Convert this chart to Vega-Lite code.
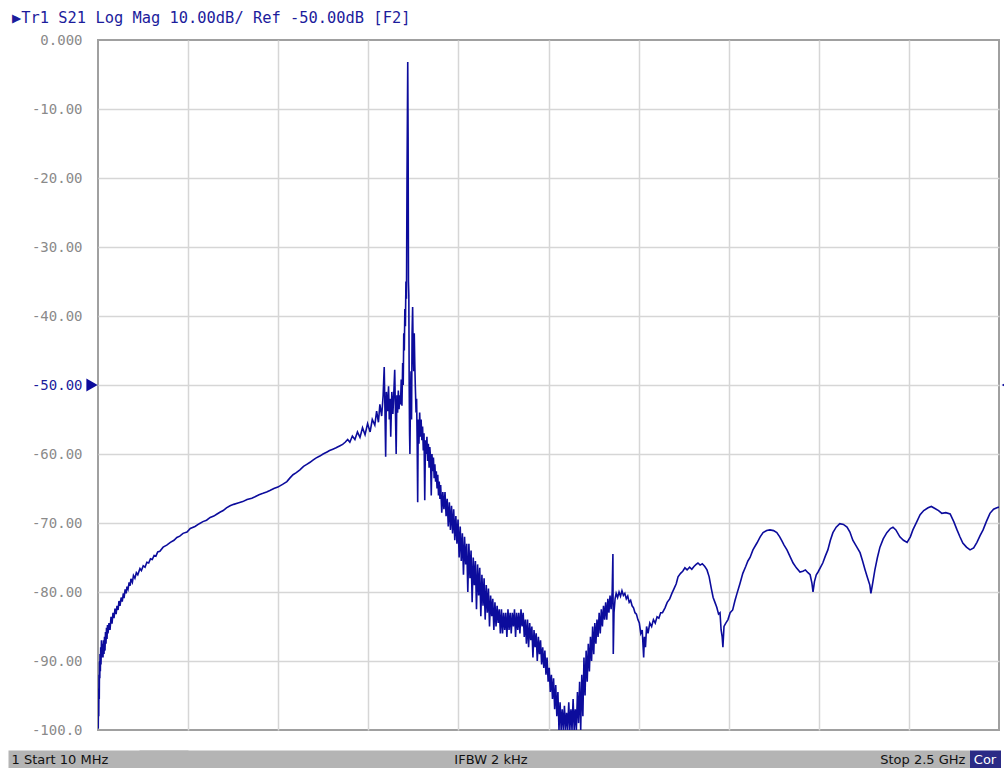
{
"$schema":"https://vega.github.io/schema/vega-lite/v6.json",
"autosize":{"type":"none"},
"width":901,"height":690,
"padding":{"left":98,"top":40,"right":5,"bottom":38},
"background":"#ffffff",
"config":{"view":{"stroke":"#a0a0a0","strokeWidth":2}},
"title":{"text":"▶Tr1 S21 Log Mag 10.00dB/ Ref -50.00dB [F2]","anchor":"start","frame":"group","dx":-86,"offset":-8,"font":"DejaVu Sans Mono","fontSize":15.4,"fontWeight":"normal","color":"#1c1c9c","baseline":"bottom"},
"layer":[
{"data":{"values":[
{"f":10,"db":-94},{"f":10.7,"db":-99.8},{"f":11.4,"db":-95},{"f":12.1,"db":-98},{"f":12.8,"db":-92},{"f":13.5,"db":-95.5},{"f":14.2,"db":-90},{"f":15,"db":-92.5},{"f":15.5,"db":-89},{"f":16.5,"db":-91.5},{"f":17.5,"db":-88},{"f":18.3,"db":-90.5},{"f":19.5,"db":-87},{"f":21.1,"db":-89.5},{"f":22.5,"db":-87.5},{"f":23.8,"db":-89.5},{"f":25.2,"db":-87},{"f":26.6,"db":-89},{"f":28,"db":-86.5},{"f":29.3,"db":-88.5},{"f":30.7,"db":-85.8},{"f":32.1,"db":-87.5},{"f":33.5,"db":-85.2},{"f":34.9,"db":-86.8},{"f":36.3,"db":-84.8},{"f":37.6,"db":-86},{"f":40.4,"db":-84.5},{"f":43.2,"db":-85.5},{"f":46,"db":-83.6},{"f":48.7,"db":-84.6},{"f":51.5,"db":-83},{"f":54.2,"db":-83.8},{"f":57,"db":-82.4},{"f":60,"db":-83.2},{"f":62.5,"db":-82},{"f":65.5,"db":-82.6},{"f":68,"db":-81.3},{"f":70.8,"db":-82},{"f":74,"db":-80.8},{"f":77,"db":-81.4},{"f":80,"db":-80.2},{"f":82,"db":-80.9},{"f":85,"db":-79.6},{"f":88,"db":-80.2},{"f":90,"db":-79.2},{"f":93,"db":-79.6},{"f":96,"db":-78.6},{"f":99,"db":-79.1},{"f":101,"db":-78.1},{"f":105,"db":-78.6},{"f":108,"db":-77.6},{"f":112,"db":-78},{"f":116,"db":-77.2},{"f":120,"db":-77.5},{"f":126,"db":-76.6},{"f":130,"db":-76.9},{"f":135,"db":-76.2},{"f":140,"db":-76.4},{"f":145,"db":-75.7},{"f":150,"db":-75.8},{"f":155,"db":-75.2},{"f":160,"db":-75.3},{"f":165,"db":-74.7},{"f":170,"db":-74.8},{"f":175,"db":-74.2},{"f":181,"db":-74.1},{"f":190,"db":-73.5},{"f":200,"db":-73.2},{"f":210,"db":-72.8},{"f":220,"db":-72.5},{"f":228,"db":-72.1},{"f":236,"db":-71.9},{"f":245,"db":-71.5},{"f":256,"db":-71.3},{"f":265,"db":-70.8},{"f":278,"db":-70.5},{"f":290,"db":-70.1},{"f":300,"db":-69.8},{"f":310,"db":-69.6},{"f":320,"db":-69.2},{"f":330,"db":-69.0},{"f":339,"db":-68.7},{"f":348,"db":-68.4},{"f":356,"db":-68.2},{"f":365,"db":-67.8},{"f":375,"db":-67.5},{"f":385,"db":-67.3},{"f":397,"db":-67.1},{"f":410,"db":-66.9},{"f":422,"db":-66.6},{"f":435,"db":-66.4},{"f":444,"db":-66.2},{"f":455,"db":-65.9},{"f":466,"db":-65.7},{"f":476,"db":-65.5},{"f":485,"db":-65.3},{"f":496,"db":-65.0},{"f":507,"db":-64.8},{"f":520,"db":-64.4},{"f":532,"db":-64.0},{"f":540,"db":-63.5},{"f":549,"db":-63.0},{"f":558,"db":-62.7},{"f":568,"db":-62.3},{"f":578,"db":-61.8},{"f":587,"db":-61.5},{"f":596,"db":-61.2},{"f":604,"db":-60.9},{"f":612,"db":-60.6},{"f":623,"db":-60.3},{"f":632,"db":-60.0},{"f":643,"db":-59.7},{"f":650,"db":-59.5},{"f":659,"db":-59.3},{"f":668,"db":-59.1},{"f":679,"db":-58.8},{"f":686,"db":-58.6},{"f":693,"db":-58.3},{"f":700,"db":-57.9},{"f":706,"db":-58.3},{"f":713,"db":-57.4},{"f":720,"db":-57.9},{"f":727,"db":-56.8},{"f":734,"db":-57.6},{"f":741,"db":-56.2},{"f":748,"db":-57.2},{"f":755,"db":-55.6},{"f":762,"db":-56.8},{"f":768,"db":-55.0},{"f":775,"db":-55.8},{"f":780,"db":-53.8},{"f":785,"db":-55.4},{"f":789,"db":-52.8},{"f":794,"db":-54.5},{"f":798,"db":-51.5},{"f":801,"db":-47.4},{"f":803,"db":-53.5},{"f":805,"db":-60.4},{"f":807,"db":-51},{"f":810,"db":-53.8},{"f":813,"db":-50.2},{"f":815,"db":-55},{"f":817,"db":-52},{"f":819,"db":-57.5},{"f":822,"db":-51},{"f":825,"db":-54.2},{"f":828,"db":-50.5},{"f":830,"db":-47.8},{"f":832,"db":-53.8},{"f":834,"db":-60},{"f":836,"db":-51.5},{"f":838,"db":-54},{"f":840,"db":-50.8},{"f":842,"db":-53.5},{"f":844,"db":-51.5},{"f":846,"db":-52.8},{"f":848,"db":-49.2},{"f":850,"db":-53},{"f":852,"db":-46.8},{"f":853.5,"db":-50},{"f":855,"db":-42.5},{"f":856.5,"db":-45},{"f":858,"db":-39},{"f":859.5,"db":-41.5},{"f":861,"db":-35},{"f":862.5,"db":-37.5},{"f":864,"db":-20},{"f":865,"db":-11.5},{"f":866,"db":-3.2},{"f":867,"db":-14},{"f":868,"db":-35},{"f":869,"db":-37},{"f":870,"db":-50},{"f":871,"db":-57},{"f":872,"db":-60},{"f":873.5,"db":-52},{"f":875,"db":-48},{"f":876.5,"db":-55},{"f":878,"db":-42.5},{"f":879.5,"db":-38.7},{"f":881,"db":-45},{"f":882.5,"db":-48},{"f":884,"db":-42.5},{"f":885.5,"db":-47},{"f":887,"db":-50.3},{"f":889,"db":-54},{"f":890.5,"db":-52},{"f":892,"db":-58},{"f":893.5,"db":-67},{"f":895,"db":-55},{"f":897,"db":-58.5},{"f":899,"db":-54},{"f":901,"db":-57.5},{"f":903,"db":-55},{"f":905,"db":-58},{"f":907,"db":-56},{"f":909,"db":-59.5},{"f":911,"db":-57},{"f":913,"db":-66.7},{"f":915,"db":-58},{"f":917,"db":-60},{"f":919,"db":-57.5},{"f":921,"db":-61},{"f":923,"db":-58.5},{"f":925,"db":-62},{"f":927,"db":-59},{"f":929,"db":-60.5},{"f":931,"db":-66},{"f":933,"db":-60},{"f":935,"db":-62.5},{"f":937,"db":-60.5},{"f":939,"db":-63.5},{"f":941,"db":-61.5},{"f":943,"db":-64},{"f":945,"db":-62.5},{"f":947,"db":-65},{"f":949,"db":-63},{"f":951,"db":-66},{"f":953,"db":-64},{"f":955,"db":-66.5},{"f":957,"db":-64.5},{"f":960,"db":-68.5},{"f":963,"db":-65.5},{"f":966,"db":-68},{"f":969,"db":-65.5},{"f":972,"db":-69},{"f":975,"db":-66.5},{"f":978,"db":-70.5},{"f":981,"db":-67},{"f":984,"db":-71},{"f":987,"db":-67.5},{"f":990,"db":-71.5},{"f":993,"db":-68},{"f":996,"db":-72.5},{"f":999,"db":-69},{"f":1002,"db":-73},{"f":1005,"db":-69.5},{"f":1008,"db":-75},{"f":1011,"db":-70.5},{"f":1014,"db":-75.5},{"f":1017,"db":-71.5},{"f":1020,"db":-77.5},{"f":1023,"db":-72},{"f":1026,"db":-76},{"f":1029,"db":-73},{"f":1032,"db":-80},{"f":1035,"db":-73},{"f":1038,"db":-78},{"f":1041,"db":-74},{"f":1044,"db":-81.5},{"f":1047,"db":-75},{"f":1050,"db":-79},{"f":1053,"db":-75.5},{"f":1056,"db":-82.5},{"f":1059,"db":-76},{"f":1062,"db":-80.5},{"f":1065,"db":-76.5},{"f":1068,"db":-83.5},{"f":1071,"db":-77.5},{"f":1074,"db":-82},{"f":1077,"db":-78},{"f":1080,"db":-84},{"f":1083,"db":-79},{"f":1086,"db":-83},{"f":1089,"db":-79.5},{"f":1092,"db":-85},{"f":1095,"db":-80.5},{"f":1098,"db":-83.5},{"f":1101,"db":-81},{"f":1104,"db":-85.5},{"f":1107,"db":-81.5},{"f":1110,"db":-85},{"f":1113,"db":-82},{"f":1116,"db":-84.5},{"f":1119,"db":-82.5},{"f":1122,"db":-86},{"f":1125,"db":-82.5},{"f":1128,"db":-86},{"f":1131,"db":-83},{"f":1134,"db":-85.5},{"f":1137,"db":-83},{"f":1140,"db":-86.5},{"f":1143,"db":-82.5},{"f":1146,"db":-85.5},{"f":1149,"db":-83},{"f":1152,"db":-86},{"f":1155,"db":-83},{"f":1158,"db":-85},{"f":1161,"db":-82.5},{"f":1164,"db":-86.5},{"f":1167,"db":-83},{"f":1170,"db":-85.5},{"f":1173,"db":-83},{"f":1176,"db":-86},{"f":1179,"db":-82.5},{"f":1182,"db":-85},{"f":1185,"db":-83},{"f":1188,"db":-86.5},{"f":1191,"db":-84},{"f":1194,"db":-87.5},{"f":1197,"db":-84},{"f":1200,"db":-88},{"f":1203,"db":-84.5},{"f":1206,"db":-87},{"f":1209,"db":-85},{"f":1212,"db":-89.5},{"f":1215,"db":-85.5},{"f":1218,"db":-88},{"f":1221,"db":-86},{"f":1224,"db":-90},{"f":1227,"db":-86.5},{"f":1230,"db":-89},{"f":1233,"db":-87},{"f":1236,"db":-90.5},{"f":1239,"db":-88},{"f":1242,"db":-91},{"f":1245,"db":-88.5},{"f":1248,"db":-92},{"f":1251,"db":-89.5},{"f":1254,"db":-93},{"f":1257,"db":-91},{"f":1260,"db":-94.5},{"f":1263,"db":-92},{"f":1266,"db":-95.5},{"f":1269,"db":-92.5},{"f":1272,"db":-97},{"f":1275,"db":-93.5},{"f":1278,"db":-98},{"f":1281,"db":-94.5},{"f":1284,"db":-100},{"f":1287,"db":-96},{"f":1290,"db":-100},{"f":1293,"db":-97},{"f":1296,"db":-100},{"f":1299,"db":-96.5},{"f":1302,"db":-100},{"f":1305,"db":-97.5},{"f":1308,"db":-100},{"f":1311,"db":-96},{"f":1314,"db":-100},{"f":1317,"db":-97},{"f":1320,"db":-100},{"f":1323,"db":-95.5},{"f":1326,"db":-100},{"f":1329,"db":-97},{"f":1332,"db":-100},{"f":1335,"db":-94.5},{"f":1338,"db":-99},{"f":1341,"db":-93},{"f":1344,"db":-100},{"f":1347,"db":-92},{"f":1350,"db":-98},{"f":1353,"db":-89.5},{"f":1356,"db":-95},{"f":1359,"db":-88.5},{"f":1362,"db":-93},{"f":1365,"db":-87.5},{"f":1368,"db":-91.5},{"f":1371,"db":-86.5},{"f":1374,"db":-90},{"f":1377,"db":-85},{"f":1380,"db":-89},{"f":1383,"db":-84.5},{"f":1386,"db":-87.5},{"f":1389,"db":-84},{"f":1392,"db":-86.5},{"f":1395,"db":-83},{"f":1398,"db":-86},{"f":1401,"db":-82.5},{"f":1404,"db":-85},{"f":1407,"db":-82},{"f":1410,"db":-84},{"f":1413,"db":-81.5},{"f":1416,"db":-84},{"f":1419,"db":-81},{"f":1422,"db":-83},{"f":1425,"db":-80.5},{"f":1428,"db":-82.5},{"f":1431,"db":-80},{"f":1433,"db":-74.5},{"f":1434,"db":-89},{"f":1436,"db":-83},{"f":1439,"db":-81},{"f":1442,"db":-80.2},{"f":1446,"db":-80.8},{"f":1450,"db":-80},{"f":1454,"db":-80.6},{"f":1458,"db":-79.8},{"f":1462,"db":-80.5},{"f":1466,"db":-80.2},{"f":1470,"db":-81},{"f":1474,"db":-80.6},{"f":1478,"db":-81.5},{"f":1482,"db":-81.2},{"f":1486,"db":-82},{"f":1490,"db":-82.3},{"f":1494,"db":-83},{"f":1498,"db":-83.2},{"f":1502,"db":-84},{"f":1506,"db":-84.5},{"f":1510,"db":-86},{"f":1514,"db":-85.5},{"f":1518,"db":-89.5},{"f":1520,"db":-86.5},{"f":1523,"db":-88},{"f":1526,"db":-85},{"f":1530,"db":-86},{"f":1535,"db":-84.5},{"f":1540,"db":-85},{"f":1545,"db":-84},{"f":1550,"db":-84.5},{"f":1555,"db":-83.6},{"f":1560,"db":-83.8},{"f":1565,"db":-83},{"f":1570,"db":-83},{"f":1577,"db":-82.3},{"f":1583,"db":-81.5},{"f":1590,"db":-81},{"f":1596,"db":-80.2},{"f":1602,"db":-79.5},{"f":1608,"db":-78.8},{"f":1613,"db":-77.8},{"f":1620,"db":-77.3},{"f":1626,"db":-77},{"f":1632,"db":-76.5},{"f":1638,"db":-76.8},{"f":1645,"db":-76.4},{"f":1651,"db":-76.7},{"f":1657,"db":-76.3},{"f":1663,"db":-76},{"f":1668,"db":-75.8},{"f":1674,"db":-76.1},{"f":1680,"db":-75.9},{"f":1687,"db":-76.3},{"f":1693,"db":-76.8},{"f":1699,"db":-77.8},{"f":1705,"db":-79.5},{"f":1710,"db":-80.8},{"f":1715,"db":-81.5},{"f":1720,"db":-82.2},{"f":1725,"db":-83.2},{"f":1729,"db":-83},{"f":1732,"db":-85.5},{"f":1735,"db":-86.5},{"f":1737,"db":-88},{"f":1740,"db":-85},{"f":1745,"db":-84.5},{"f":1751,"db":-84},{"f":1757,"db":-83},{"f":1764,"db":-82.6},{"f":1770,"db":-81.3},{"f":1776,"db":-80.2},{"f":1784,"db":-78.8},{"f":1792,"db":-77.3},{"f":1800,"db":-76.3},{"f":1806,"db":-75.5},{"f":1812,"db":-75},{"f":1820,"db":-73.9},{"f":1831,"db":-72.9},{"f":1840,"db":-72},{"f":1848,"db":-71.4},{"f":1858,"db":-71.1},{"f":1867,"db":-71},{"f":1877,"db":-71.1},{"f":1886,"db":-71.4},{"f":1894,"db":-72},{"f":1900,"db":-72.6},{"f":1906,"db":-73.2},{"f":1914,"db":-73.9},{"f":1922,"db":-74.8},{"f":1931,"db":-75.8},{"f":1940,"db":-76.5},{"f":1950,"db":-77.1},{"f":1958,"db":-77},{"f":1965,"db":-76.8},{"f":1972,"db":-77.2},{"f":1978,"db":-77.5},{"f":1983,"db":-78.7},{"f":1986,"db":-80},{"f":1990,"db":-78.5},{"f":1995,"db":-77.5},{"f":2000,"db":-77.1},{"f":2007,"db":-76.4},{"f":2013,"db":-75.8},{"f":2020,"db":-74.8},{"f":2027,"db":-73.9},{"f":2034,"db":-72.5},{"f":2041,"db":-71.4},{"f":2050,"db":-70.6},{"f":2060,"db":-70.1},{"f":2070,"db":-70.2},{"f":2080,"db":-70.6},{"f":2088,"db":-71.3},{"f":2096,"db":-72.5},{"f":2106,"db":-73.4},{"f":2116,"db":-74.3},{"f":2123,"db":-75.5},{"f":2130,"db":-76.8},{"f":2137,"db":-78},{"f":2143,"db":-79},{"f":2146,"db":-80.2},{"f":2150,"db":-79},{"f":2157,"db":-76.8},{"f":2164,"db":-75},{"f":2171,"db":-73.5},{"f":2180,"db":-72.3},{"f":2190,"db":-71.4},{"f":2200,"db":-70.8},{"f":2207,"db":-70.6},{"f":2215,"db":-71},{"f":2226,"db":-72},{"f":2236,"db":-72.5},{"f":2246,"db":-72.8},{"f":2255,"db":-72},{"f":2262,"db":-71},{"f":2272,"db":-69.9},{"f":2282,"db":-68.8},{"f":2292,"db":-68.2},{"f":2304,"db":-67.8},{"f":2313,"db":-67.6},{"f":2323,"db":-67.9},{"f":2333,"db":-68.2},{"f":2342,"db":-68.6},{"f":2353,"db":-68.5},{"f":2365,"db":-68.7},{"f":2375,"db":-69.8},{"f":2384,"db":-71},{"f":2392,"db":-72},{"f":2400,"db":-72.9},{"f":2410,"db":-73.5},{"f":2420,"db":-73.9},{"f":2430,"db":-73.6},{"f":2439,"db":-72.8},{"f":2448,"db":-71.8},{"f":2456,"db":-71},{"f":2465,"db":-69.8},{"f":2475,"db":-68.6},{"f":2485,"db":-68},{"f":2494,"db":-67.8},{"f":2500,"db":-67.7}
]},
"mark":{"type":"line","color":"#0c0c9c","strokeWidth":1.6,"clip":true,"interpolate":"linear"},
"encoding":{
"x":{"field":"f","type":"quantitative","scale":{"domain":[10,2500],"nice":false,"zero":false},
"axis":{"title":null,"values":[10,259,508,757,1006,1255,1504,1753,2002,2251,2403,2460,2500],
"domain":false,"offset":20,"tickSize":18,
"tickColor":{"condition":{"test":"datum.value == 2460","value":"#2b2b86"},"value":"#b4b4b4"},
"tickWidth":{"condition":[{"test":"datum.value == 10","value":180},{"test":"datum.value == 1255","value":820},{"test":"datum.value == 2403","value":12},{"test":"datum.value == 2460","value":31}],"value":0},
"tickOpacity":{"condition":{"test":"datum.value == 10 || datum.value == 1255 || datum.value == 2403 || datum.value == 2460","value":1},"value":0},
"grid":true,"gridColor":"#d6d6d6","gridWidth":1.5,
"gridOpacity":{"condition":{"test":"datum.value == 10 || datum.value == 2500 || datum.value == 2403 || datum.value == 2460","value":0},"value":1},
"labelExpr":"datum.value == 10 ? '1  Start 10 MHz' : datum.value == 1255 ? 'IFBW 2 kHz' : datum.value == 2403 ? 'Stop 2.5 GHz' : datum.value == 2460 ? 'Cor' : ''",
"labelAlign":{"condition":[{"test":"datum.value == 10","value":"left"},{"test":"datum.value == 2403","value":"right"}],"value":"center"},
"labelOffset":{"condition":[{"test":"datum.value == 10","value":-87},{"test":"datum.value == 1255","value":-58},{"test":"datum.value == 2403","value":1}],"value":0},
"labelColor":{"condition":{"test":"datum.value == 2460","value":"#ffffff"},"value":"#111111"},
"labelFont":"DejaVu Sans","labelFontSize":13,"labelBaseline":"middle","labelPadding":-9,
"labelOverlap":false,"labelFlush":false,"labelBound":false}},
"y":{"field":"db","type":"quantitative","scale":{"domain":[-100,0],"nice":false,"zero":false},
"axis":{"title":null,"values":[-100,-90,-80,-70,-60,-50,-40,-30,-20,-10,0],"domain":false,"ticks":false,
"grid":true,"gridColor":"#d6d6d6","gridWidth":1.5,
"gridOpacity":{"condition":{"test":"datum.value == -100 || datum.value == 0","value":0},"value":1},
"labelExpr":"datum.value == 0 ? '0.000' : datum.value == -100 ? '-100.0' : '-' + format(-datum.value, '.2f')",
"labelFont":"DejaVu Sans Mono","labelFontSize":14,"labelPadding":16,"labelBaseline":"middle",
"labelColor":{"condition":{"test":"datum.value == -50","value":"#1c1c9c"},"value":"#8a8a8a"}}}
}},
{"data":{"values":[{"level":-50}]},
"mark":{"type":"point","shape":"triangle-right","filled":true,"color":"#0c0c9c","size":170,"opacity":1,"xOffset":-6},
"encoding":{"x":{"datum":10,"type":"quantitative"},"y":{"field":"level","type":"quantitative"}}},
{"data":{"values":[{"level":-50}]},
"mark":{"type":"point","shape":"triangle-left","filled":true,"color":"#0c0c9c","size":60,"opacity":1,"xOffset":6},
"encoding":{"x":{"datum":2500,"type":"quantitative"},"y":{"field":"level","type":"quantitative"}}}
]
}
